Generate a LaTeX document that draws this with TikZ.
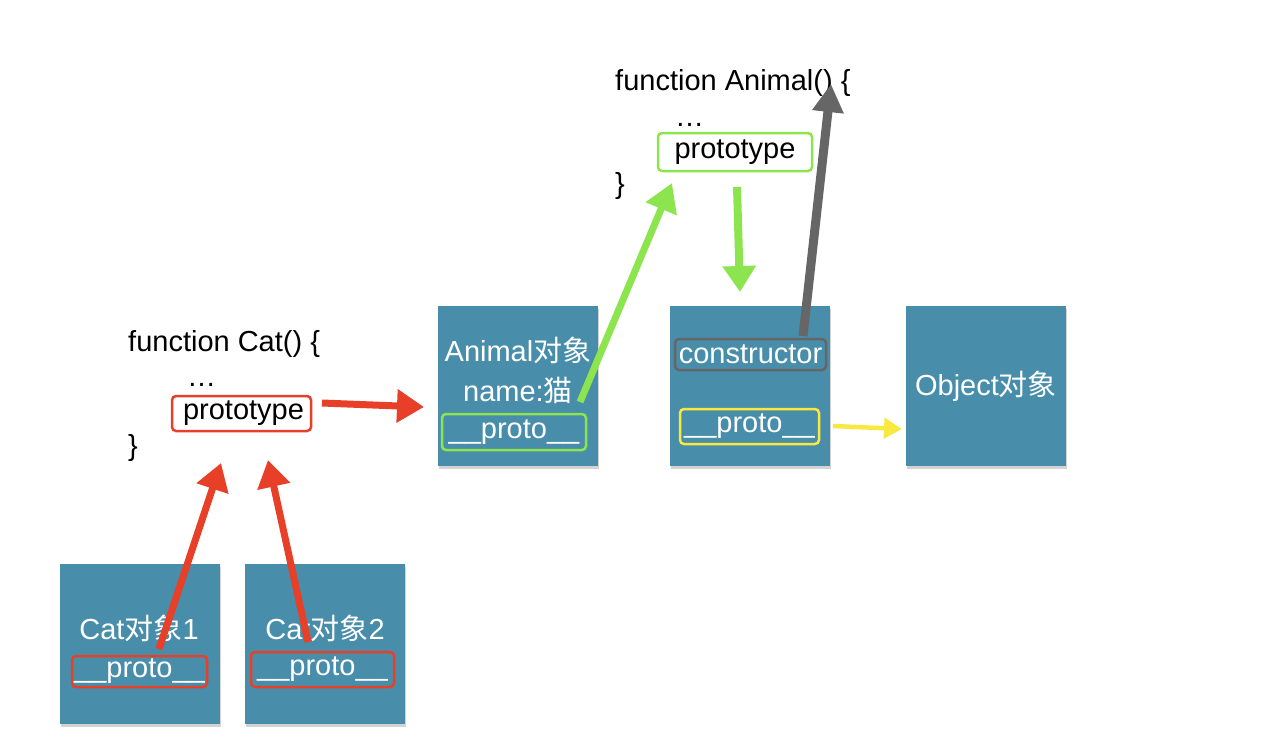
\documentclass[tikz,border=0pt]{standalone}
\usepackage{fontspec}
\setmainfont{Liberation Sans}
\newfontfamily\cjk{Noto Sans CJK SC}
\newcommand\zh[1]{{\cjk #1}}
\usetikzlibrary{arrows.meta,shadows}
\definecolor{boxblue}{RGB}{72,142,170}
\definecolor{myred}{RGB}{232,64,40}
\definecolor{mygreen}{RGB}{140,228,78}
\definecolor{mygray}{RGB}{102,102,102}
\definecolor{myyellow}{RGB}{248,232,64}
\tikzset{
  objbox/.style={fill=boxblue, minimum width=160pt, minimum height=160pt, inner sep=0pt,
    drop shadow={shadow xshift=1pt, shadow yshift=-3pt, opacity=0.35}},
  code/.style={font=\fontsize{29}{34}\selectfont, inner sep=0pt, anchor=base west, text=black},
  wtext/.style={font=\fontsize{29}{34}\selectfont, inner sep=0pt, text=white},
  frame/.style={draw=#1, line width=2.5pt, rounded corners=4pt, inner sep=0pt,
    font=\fontsize{29}{34}\selectfont},
  fat/.style={draw=#1, line width=7pt, -{Triangle[length=27pt,width=32pt]}, fill=#1},
}
\begin{document}
\begin{tikzpicture}[x=1pt,y=-1pt]
\useasboundingbox (0,0) rectangle (1284,750);

% objects
\node[objbox] (cat1) at (140,644) {};
\node[objbox] (cat2) at (325,644) {};
\node[objbox] (animal) at (518,386) {};
\node[objbox] (proto) at (750,386) {};
\node[objbox] (object) at (986,386) {};

% Cat function
\node[code] (catfn) at (128,351) {function Cat() \{};
\node[code] (catdots) at (187,386) {…};
\node[frame=myred, minimum width=139pt, minimum height=35pt, text=black] (catpt) at (241.5,413.5) {\hspace{4pt}prototype};
\node[code] (catend) at (128,455) {\}};

% Animal function
\node[code] (anfn) at (615,90) {function Animal() \{};
\node[code] (andots) at (675,126) {…};
\node[frame=mygreen, minimum width=154pt, minimum height=38pt, text=black] (anpt) at (735,152) {prototype};
\node[code] (anend) at (615,193) {\}};

% Animal object contents
\node[wtext] (antitle) at (518,350) {Animal\zh{对象}};
\node[wtext] (anname) at (518,390) {name:\zh{猫}};
\node[frame=mygreen, minimum width=144pt, minimum height=36pt, text=white] (anproto) at (514,432) {\_\_proto\_\_};

% prototype object contents
\node[frame=mygray, minimum width=151pt, minimum height=31pt, text=white] (ctor) at (750.5,354.5) {constructor};
\node[frame=myyellow, minimum width=139pt, minimum height=35pt, text=white] (pproto) at (749.5,426.5) {\_\_proto\_\_};

% Object
\node[wtext] (objtitle) at (986,386) {Object\zh{对象}};

% Cat objects contents
\node[wtext] (c1title) at (139,628) {Cat\zh{对象}1};
\node[frame=myred, minimum width=135pt, minimum height=31pt, text=white] (c1proto) at (139.5,671.5) {\_\_proto\_\_};
\node[wtext] (c2title) at (325,628) {Cat\zh{对象}2};
\node[frame=myred, minimum width=143pt, minimum height=35pt, text=white] (c2proto) at (322.5,669.5) {\_\_proto\_\_};

% arrow end points
\coordinate (r0s) at (322,403);
\coordinate (r0e) at (424,407);
\coordinate (r1s) at (159,649);
\coordinate (r1e) at (221,463);
\coordinate (r2s) at (308,642);
\coordinate (r2e) at (268,460);
\coordinate (g1s) at (580,402);
\coordinate (g1e) at (672,183);
\coordinate (g2s) at (737,187);
\coordinate (g2e) at (740,292);
\coordinate (k1s) at (803,336);
\coordinate (k1e) at (831,84);
\coordinate (y1s) at (833,426);
\coordinate (y1e) at (902,429);

\draw[fat=myred] (r0s) -- (r0e);
\draw[fat=myred] (r1s) -- (r1e);
\draw[fat=myred] (r2s) -- (r2e);
\draw[fat=mygreen, line width=7pt, -{Triangle[length=28pt,width=32pt]}] (g1s) -- (g1e);
\draw[fat=mygreen, line width=8pt, -{Triangle[length=26pt,width=32pt]}] (g2s) -- (g2e);
\draw[fat=mygray, line width=9pt, -{Triangle[length=28pt,width=30pt]}] (k1s) -- (k1e);
\draw[fat=myyellow, line width=4.5pt, -{Triangle[length=18pt,width=20pt]}] (y1s) -- (y1e);
\end{tikzpicture}
\end{document}
